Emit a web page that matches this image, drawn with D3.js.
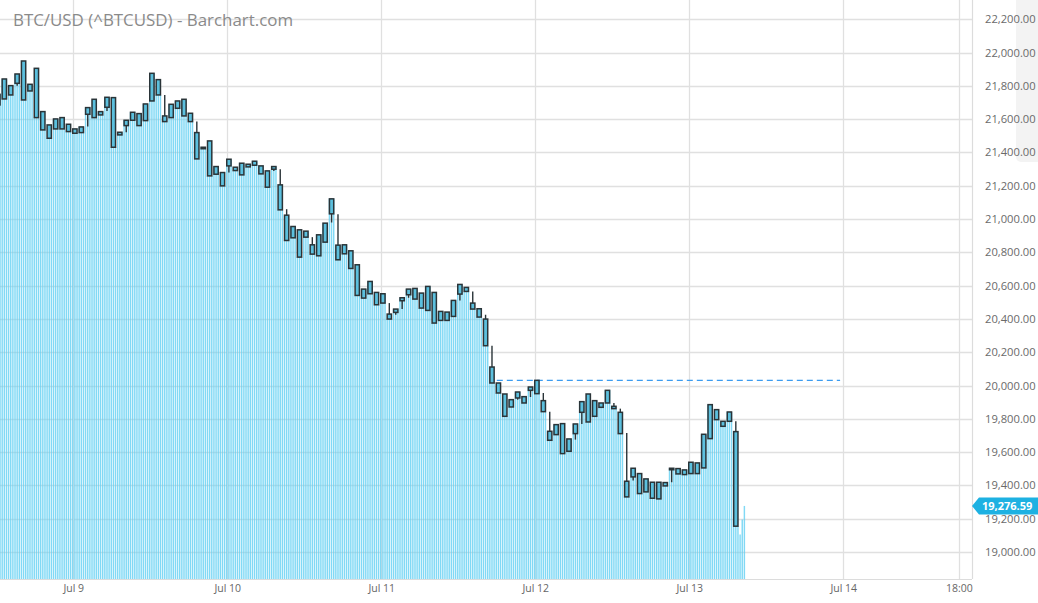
<!DOCTYPE html>
<html><head><meta charset="utf-8">
<script src="https://cdn.jsdelivr.net/npm/d3@7"></script>
<style>
body{margin:0;background:#fff;}
svg{display:block;font-family:"Open Sans",sans-serif;}
</style>
</head><body>
<svg id="chart" width="1038" height="603"></svg>
<script>
// ---------------- data ----------------
const chartTitle = "BTC/USD (^BTCUSD) - Barchart.com";
const firstCandleTime = new Date(2022, 6, 8, 12, 15); // hourly candles
const opens = [21685,21721,21801,21815,21949,21769,21905,21645,21565,21541,21609,21569,21541,21519,21629,21719,21625,21671,21729,21505,
21561,21593,21633,21591,21709,21837,21619,21609,21665,21719,21635,21519,21425,21469,21269,21279,21319,21311,21265,21329,
21323,21319,21289,21299,21205,21023,20887,20935,20891,20845,20779,20861,21031,20843,20791,20809,20725,20525,20551,20559,
20495,20429,20439,20509,20545,20583,20555,20451,20559,20391,20441,20415,20549,20589,20495,20461,20399,20111,20015,19949,
19871,19925,19933,19971,19951,19909,19725,19705,19771,19605,19711,19839,19949,19815,19895,19895,19875,19839,19425,19451,
19471,19361,19419,19319,19417,19499,19501,19465,19471,19535,19505,19681,19855,19785,19785,19723];
const closes = [21749,21841,21745,21871,21715,21809,21609,21535,21485,21601,21541,21525,21515,21553,21669,21609,21645,21731,21431,21521,
21593,21641,21561,21691,21875,21745,21585,21689,21709,21619,21585,21361,21431,21259,21315,21199,21359,21291,21335,21313,
21347,21271,21191,21315,21055,20871,20955,20771,20927,20789,20905,20975,21121,20755,20845,20703,20541,20579,20625,20485,
20551,20399,20459,20527,20579,20519,20465,20595,20375,20445,20391,20511,20607,20565,20459,20411,20239,20015,19955,19815,
19915,19961,19895,19991,20031,19843,19671,19765,19591,19679,19769,19903,19781,19909,19869,19971,19861,19711,19331,19503,
19351,19439,19323,19419,19397,19503,19469,19493,19539,19471,19707,19885,19795,19755,19841,19155];
// wick extremes (only where a wick is visible beyond the body)
const highWicks = {26:21745,31:21585,44:21299,45:21059,49:20891,53:21029,61:20495,74:20565,76:20425,77:20239,
  85:19955,86:19843,96:19895,97:19861,98:19715,115:19785};
const lowWicks = {3:21801,14:21555,17:21649,20:21521,36:21279,43:21289,52:20979,62:20425,63:20459,64:20527,
  72:20511,81:19915,83:19931,90:19675,91:19769,99:19429,105:19419};
// latest ticks after the last full candle
const lastTickTimes = [new Date(2022,6,13,7,55), new Date(2022,6,13,8,15), new Date(2022,6,13,8,35)];
const lastTickValues = [19105, 19195, 19276.59];
const lastPrice = 19276.59;
const refLine = {from: new Date(2022,6,11,18,0), to: new Date(2022,6,13,23,30), value: 20031};
const yTicks = d3.range(19000, 22201, 200);
const xTickDates = [new Date(2022,6,9), new Date(2022,6,10), new Date(2022,6,11), new Date(2022,6,12), new Date(2022,6,13), new Date(2022,6,14), new Date(2022,6,14,18)];
const xTickLabels = ["Jul 9","Jul 10","Jul 11","Jul 12","Jul 13","Jul 14","18:00"];

// ---------------- build ----------------
const HOUR = 3600e3;
const candles = opens.map((o, i) => {
  const c = closes[i];
  return {
    t: new Date(+firstCandleTime + i * HOUR),
    o, c,
    h: highWicks[i] !== undefined ? highWicks[i] : Math.max(o, c),
    l: lowWicks[i] !== undefined ? lowWicks[i] : Math.min(o, c)
  };
});

const svg = d3.select("#chart");
const W = 1038, H = 603;
const plotRight = 972, plotBottom = 579;

const x = d3.scaleTime()
  .domain([new Date(2022,6,9), new Date(2022,6,14)])
  .range([73.3, 843.3]);
const y = d3.scaleLinear().domain([19000, 22000]).range([552, 52.5]);

svg.append("defs").append("clipPath").attr("id","plotclip")
  .append("rect").attr("x",0).attr("y",0).attr("width",plotRight).attr("height",plotBottom);

// grid
const grid = svg.append("g");
grid.selectAll("line.h").data(yTicks).join("line")
  .attr("x1",0).attr("x2",plotRight)
  .attr("y1",d=>Math.round(y(d))+0.5).attr("y2",d=>Math.round(y(d))+0.5)
  .attr("stroke","#e0e0e0").attr("stroke-width",1.3);
grid.selectAll("line.v").data(xTickDates).join("line")
  .attr("x1",d=>Math.round(x(d))+0.5).attr("x2",d=>Math.round(x(d))+0.5)
  .attr("y1",0).attr("y2",plotBottom)
  .attr("stroke","#e0e0e0").attr("stroke-width",1.3);

// mountain fill (thin vertical lines)
const fillPts = [];
candles.forEach(d => {
  [-1,0,1].forEach(k => fillPts.push({t: new Date(+d.t + k * HOUR/3), v: d.c}));
});
lastTickTimes.forEach((t,i) => fillPts.push({t, v: lastTickValues[i]}));
const plot = svg.append("g").attr("clip-path","url(#plotclip)");
plot.append("g").selectAll("line").data(fillPts).join("line")
  .attr("x1",d=>x(d.t)).attr("x2",d=>x(d.t))
  .attr("y1",d=>y(d.v)).attr("y2",plotBottom)
  .attr("stroke","#62d0f2").attr("stroke-opacity",0.8).attr("stroke-width",1.45);

// reference dashed line
plot.append("line")
  .attr("x1",x(refLine.from)).attr("x2",x(refLine.to))
  .attr("y1",y(refLine.value)).attr("y2",y(refLine.value))
  .attr("stroke","#3b9cf0").attr("stroke-width",1.3).attr("stroke-dasharray","6,4");

// candles
const cg = plot.append("g");
cg.selectAll("line").data(candles).join("line")
  .attr("x1",d=>x(d.t)).attr("x2",d=>x(d.t))
  .attr("y1",d=>y(d.h)).attr("y2",d=>y(d.l))
  .attr("stroke","#2a3438").attr("stroke-width",1.4);
const bw = 4.3;
cg.selectAll("rect").data(candles).join("rect")
  .attr("x",d=>x(d.t)-bw/2)
  .attr("y",d=>y(Math.max(d.o,d.c)))
  .attr("width",bw)
  .attr("height",d=>Math.max(1.5, y(Math.min(d.o,d.c)) - y(Math.max(d.o,d.c))))
  .attr("fill","#5cc0de").attr("stroke","#2a3438").attr("stroke-width",1.5);

// axes lines
svg.append("line").attr("x1",plotRight+0.5).attr("x2",plotRight+0.5).attr("y1",0).attr("y2",plotBottom)
  .attr("stroke","#dcdcdc").attr("stroke-width",1.2);
svg.append("line").attr("x1",0).attr("x2",plotRight).attr("y1",plotBottom+0.5).attr("y2",plotBottom+0.5)
  .attr("stroke","#dcdcdc").attr("stroke-width",1.2);

// faint panel at top right
svg.append("rect").attr("x",1016).attr("y",-6).attr("width",40).attr("height",168).attr("rx",5)
  .attr("fill","#f3f3f3");

// y axis
const yAxis = d3.axisRight(y).tickValues(yTicks).tickFormat(d3.format(",.2f")).tickSize(0).tickPadding(0);
const yg = svg.append("g").attr("transform",`translate(${plotRight+13},0)`).call(yAxis);
yg.select(".domain").remove();
yg.selectAll("text").attr("fill","#6a6a6a").attr("font-size",11.2).attr("font-family","Open Sans");

// x axis
const xAxis = d3.axisBottom(x).tickValues(xTickDates).tickFormat((d,i)=>xTickLabels[i]).tickSize(0).tickPadding(0);
const xg = svg.append("g").attr("transform",`translate(0,${plotBottom+6})`).call(xAxis);
xg.select(".domain").remove();
xg.selectAll("text").attr("fill","#666").attr("font-size",10.5).attr("font-family","Open Sans").attr("dy","0.71em");

// last price label
const py = y(lastPrice);
svg.append("path")
  .attr("d",`M${plotRight},${py} L${plotRight+7},${py-8.5} L${W},${py-8.5} L${W},${py+8.5} L${plotRight+7},${py+8.5} Z`)
  .attr("fill","#1db1e2");
svg.append("text").attr("x",plotRight+10).attr("y",py).attr("dy","0.36em")
  .attr("fill","#fff").attr("font-size",11).attr("font-weight","bold").attr("font-family","Open Sans")
  .text(d3.format(",.2f")(lastPrice));

// title
svg.append("text").attr("x",13).attr("y",26).attr("fill","#8a8a8a").attr("font-size",16.9)
  .attr("font-family","Open Sans").text(chartTitle);
</script>
</body></html>
